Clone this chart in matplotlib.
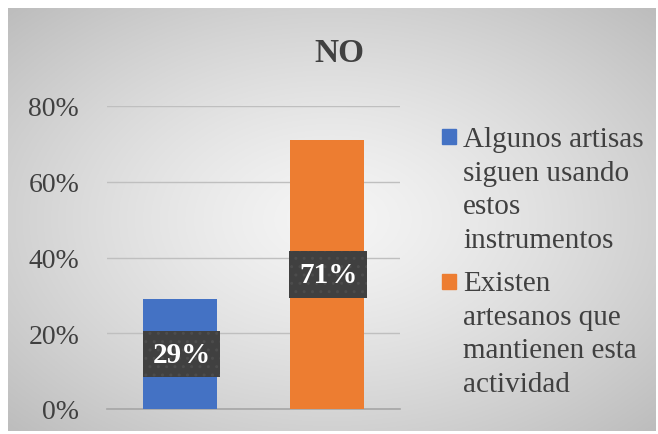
import matplotlib.pyplot as plt
import numpy as np

# data
categories = ['Algunos artisas siguen usando estos instrumentos',
              'Existen artesanos que mantienen esta actividad']
legend_lines = ['Algunos artisas\nsiguen usando\nestos\ninstrumentos',
                'Existen\nartesanos que\nmantienen esta\nactividad']
values = [0.29, 0.71]
colors = ['#4472C4', '#ED7D31']
yticks = [0, 0.2, 0.4, 0.6, 0.8]

plt.rcParams['font.family'] = ['Liberation Serif', 'DejaVu Serif']

fig = plt.figure(figsize=(6.58, 4.35), dpi=100)

# radial gradient background of the chart area
bg = fig.add_axes([8 / 658, 3 / 435, 648 / 658, 423 / 435], zorder=-10)
xx, yy = np.meshgrid(np.linspace(-1, 1, 400), np.linspace(-1, 1, 300))
r = np.sqrt(xx ** 2 + yy ** 2) / np.sqrt(2)
shade = 0.96 - 0.22 * r ** 1.3
bg.imshow(np.dstack([shade, shade, shade]), aspect='auto', extent=[0, 1, 0, 1])
bg.set_axis_off()

ax = fig.add_axes([107 / 658, 1 - 410 / 435, 293 / 658, 303 / 435])
ax.set_facecolor('none')
x = np.arange(len(values))
bars = ax.bar(x, values, width=0.505, color=colors, zorder=3)

for xi, v in zip(x, values):
    ax.text(xi + 0.01, v / 2, f'{round(v * 100)}%', ha='center', va='center',
            fontsize=21, fontweight='bold', color='white', zorder=5,
            bbox=dict(boxstyle='square,pad=0.33', facecolor='#404040',
                      edgecolor='#4c4c4c', linewidth=0, hatch='..'))

ax.set_xlim(-0.5, 1.5)
ax.set_ylim(0, 0.8)
ax.set_yticks(yticks)
ax.set_yticklabels([f'{int(t * 100)}%' for t in yticks], fontsize=20, color='#404040')
ax.set_xticks([])
ax.tick_params(axis='y', length=0, pad=20)
ax.grid(axis='y', color='#BFBFBF', linewidth=1, zorder=0)
for s in ['top', 'right', 'left']:
    ax.spines[s].set_visible(False)
ax.spines['bottom'].set_color('#A6A6A6')
ax.spines['bottom'].set_linewidth(1.2)

fig.text(339 / 658, 1 - 53 / 435, 'NO', ha='center', va='center',
         fontsize=24, fontweight='bold', color='#404040')

# legend
legend_tops = [127, 271]
square_tops = [130, 275]
for top, sq, label, c in zip(legend_tops, square_tops, legend_lines, colors):
    fig.patches.append(plt.Rectangle((442 / 658, 1 - (sq + 15) / 435), 14 / 658, 15 / 435,
                                     transform=fig.transFigure, color=c))
    fig.text(463 / 658, 1 - top / 435, label, ha='left', va='top',
             fontsize=21, color='#404040', linespacing=1.38)

fig.savefig('out.png', dpi=100)
